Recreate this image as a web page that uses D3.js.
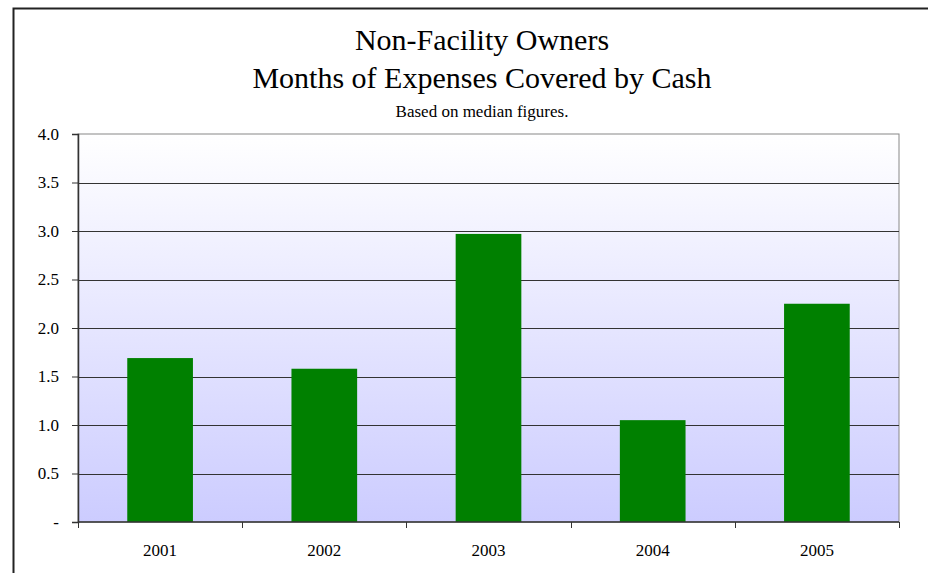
<!DOCTYPE html>
<html>
<head>
<meta charset="utf-8">
<script src="https://cdn.jsdelivr.net/npm/d3@7"></script>
<style>
  body { margin: 0; background: #fff; }
  svg text { font-family: "Liberation Serif", "Times New Roman", Tinos, "DejaVu Serif", serif !important; fill: #000; }
</style>
</head>
<body>
<div id="chart"></div>
<script>
var years = ["2001", "2002", "2003", "2004", "2005"];
var months = [1.69, 1.58, 2.97, 1.05, 2.25];
var yTicks = [0, 0.5, 1, 1.5, 2, 2.5, 3, 3.5, 4];
var titleLines = ["Non-Facility Owners", "Months of Expenses Covered by Cash"];
var subtitle = "Based on median figures.";

var width = 928, height = 573;
var margin = { top: 134, right: 29, bottom: 51, left: 78 };
var innerW = width - margin.left - margin.right,
    innerH = height - margin.top - margin.bottom;

var svg = d3.select("#chart").append("svg")
    .attr("width", width)
    .attr("height", height);

// outer chart frame (runs off the right and bottom edges)
svg.append("path")
    .attr("d", "M13.5,600V8.5H940")
    .attr("fill", "none")
    .attr("stroke", "#222")
    .attr("stroke-width", 2);

var defs = svg.append("defs");
var grad = defs.append("linearGradient")
    .attr("id", "bg")
    .attr("x1", 0).attr("y1", 0).attr("x2", 0).attr("y2", 1);
grad.append("stop").attr("offset", "0%").attr("stop-color", "#ffffff");
grad.append("stop").attr("offset", "100%").attr("stop-color", "#ccccff");

var g = svg.append("g")
    .attr("transform", "translate(" + margin.left + "," + margin.top + ")");

var x = d3.scaleBand()
    .domain(years)
    .range([0, innerW])
    .paddingInner(0.6)
    .paddingOuter(0.3);

var y = d3.scaleLinear()
    .domain([0, 4])
    .range([innerH, 0]);

g.append("rect")
    .attr("width", innerW)
    .attr("height", innerH)
    .attr("fill", "url(#bg)")
    .attr("stroke", "#888")
    .attr("stroke-width", 1);

// gridlines
g.selectAll(".grid")
    .data(yTicks.filter(function (d) { return d > 0 && d < 4; }))
    .enter().append("line")
    .attr("x1", 0)
    .attr("x2", innerW)
    .attr("y1", function (d) { return Math.round(y(d)) + 0.5; })
    .attr("y2", function (d) { return Math.round(y(d)) + 0.5; })
    .attr("stroke", "#333")
    .attr("stroke-width", 1);

g.selectAll(".bar")
    .data(months)
    .enter().append("rect")
    .attr("x", function (d, i) { return x(years[i]); })
    .attr("y", function (d) { return y(d); })
    .attr("width", x.bandwidth())
    .attr("height", function (d) { return innerH - y(d); })
    .attr("fill", "#008000");

// y axis
var yAxis = d3.axisLeft(y)
    .tickValues(yTicks)
    .tickSize(6)
    .tickPadding(13)
    .tickFormat(function (d) { return d === 0 ? "-" : d3.format(".1f")(d); });

var ya = g.append("g").call(yAxis).attr("font-family", null).attr("font-size", null);
ya.select(".domain").attr("stroke", "#333").attr("stroke-width", 1.5);
ya.selectAll(".tick line").attr("stroke", "#333");
ya.selectAll("text")
    .style("font-size", "17px")
    .attr("fill", "#222");

// x axis with ticks at category boundaries
var step = x.step();
var xa = g.append("g").attr("transform", "translate(0," + innerH + ")");
xa.append("line")
    .attr("x1", 0).attr("x2", innerW)
    .attr("stroke", "#333").attr("stroke-width", 1.5);
xa.selectAll(".xt")
    .data(d3.range(years.length + 1))
    .enter().append("line")
    .attr("x1", function (i) { return Math.round(i * step) + 0.5; })
    .attr("x2", function (i) { return Math.round(i * step) + 0.5; })
    .attr("y1", 0).attr("y2", 6)
    .attr("stroke", "#333");
xa.selectAll(".xl")
    .data(years)
    .enter().append("text")
    .attr("x", function (d) { return x(d) + x.bandwidth() / 2; })
    .attr("y", 34)
    .attr("text-anchor", "middle")
    .style("font-size", "17px")
    .attr("fill", "#222")
    .text(function (d) { return d; });

// titles
var cx = 482;
svg.selectAll(".title")
    .data(titleLines)
    .enter().append("text")
    .attr("x", cx)
    .attr("y", function (d, i) { return 50 + i * 38; })
    .attr("text-anchor", "middle")
    .style("font-size", "30px")
    .text(function (d) { return d; });

svg.append("text")
    .attr("x", cx)
    .attr("y", 117)
    .attr("text-anchor", "middle")
    .style("font-size", "17px")
    .text(subtitle);
</script>
</body>
</html>
